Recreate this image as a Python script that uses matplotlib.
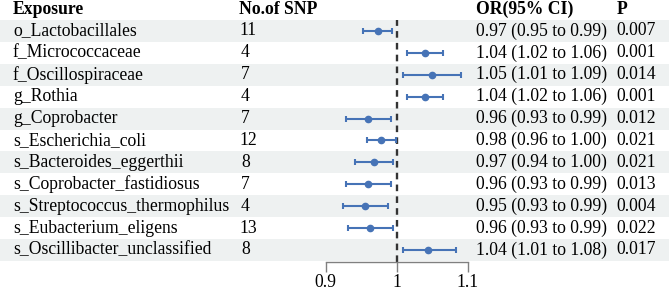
import numpy as np
import matplotlib.pyplot as plt

exposures = ["o_Lactobacillales", "f_Micrococcaceae", "f_Oscillospiraceae", "g_Rothia",
             "g_Coprobacter", "s_Escherichia_coli", "s_Bacteroides_eggerthii",
             "s_Coprobacter_fastidiosus", "s_Streptococcus_thermophilus",
             "s_Eubacterium_eligens", "s_Oscillibacter_unclassified"]
n_snp = [11, 4, 7, 4, 7, 12, 8, 7, 4, 13, 8]
or_est = [0.973, 1.040, 1.049, 1.040, 0.960, 0.9775, 0.968, 0.960, 0.9555, 0.9625, 1.0444]
ci_low = [0.953, 1.014, 1.008, 1.014, 0.928, 0.958, 0.941, 0.928, 0.925, 0.932, 1.008]
ci_high = [0.993, 1.065, 1.090, 1.065, 0.992, 0.999, 0.995, 0.992, 0.987, 0.995, 1.083]
or_text = ["0.97 (0.95 to 0.99)", "1.04 (1.02 to 1.06)", "1.05 (1.01 to 1.09)",
           "1.04 (1.02 to 1.06)", "0.96 (0.93 to 0.99)", "0.98 (0.96 to 1.00)",
           "0.97 (0.94 to 1.00)", "0.96 (0.93 to 0.99)", "0.95 (0.93 to 0.99)",
           "0.96 (0.93 to 0.99)", "1.04 (1.01 to 1.08)"]
p_text = ["0.007", "0.001", "0.014", "0.001", "0.012", "0.021",
          "0.021", "0.013", "0.004", "0.022", "0.017"]
headers = ["Exposure", "No.of SNP", "OR(95% CI)", "P"]
xticks = [0.9, 1.0, 1.1]
xtick_labels = ["0.9", "1", "1.1"]

plt.rcParams["font.family"] = ["Liberation Serif", "DejaVu Serif"]
fs = 12.7
W, H = 669, 290
row0, step = 31, 21.9
blue = "#4673B6"
band = "#EEF1F1"

fig = plt.figure(figsize=(W / 100, H / 100), dpi=100)

# background axes: whole figure, y in row units
bg = fig.add_axes([0, 0, 1, 1])
bg.set_xlim(0, W)
bg.set_ylim((H - row0) / step, -row0 / step)
bg.set_axis_off()

rows = np.arange(len(exposures))
for i in rows:
    if i % 2 == 0:
        bg.axhspan(i - 0.5, i + 0.5, color=band, lw=0, zorder=0)

col_x = [13, 239, 475.5, 616.5]
for x, h in zip(col_x, headers):
    bg.text(x, -0.98, h, fontsize=fs, fontweight="bold", va="center", ha="left")
for i in rows:
    bg.text(col_x[0], i, exposures[i], fontsize=fs, va="center", ha="left")
    bg.text(col_x[1] + (2 if n_snp[i] < 10 else 0), i, str(n_snp[i]),
            fontsize=fs, va="center", ha="left")
    bg.text(col_x[2], i, or_text[i], fontsize=fs, va="center", ha="left")
    bg.text(col_x[3], i, p_text[i], fontsize=fs, va="center", ha="left")

# forest axes
x0, x1 = 325.7, 468.0
top_px = row0 - 0.5 * step
bot_px = 261.7
ax = fig.add_axes([x0 / W, 1 - bot_px / H, (x1 - x0) / W, (bot_px - top_px) / H])
ax.patch.set_alpha(0)
ax.set_xlim(0.9, 1.1)
ax.set_ylim((bot_px - row0) / step, -0.5)

ax.axvline(1.0, color="#333333", lw=1.7, dashes=(2.8, 2.2), zorder=1)
est = np.array(or_est)
err = [est - np.array(ci_low), np.array(ci_high) - est]
ax.errorbar(est, rows, xerr=err, fmt="o", color=blue, ms=4.5, elinewidth=1.5,
            capsize=2.2, capthick=1.5, zorder=3, clip_on=False)

for s in ["top", "right", "left"]:
    ax.spines[s].set_visible(False)
ax.spines["bottom"].set_color("#808080")
ax.spines["bottom"].set_linewidth(1.0)
ax.set_yticks([])
ax.set_xticks(xticks)
ax.set_xticklabels(xtick_labels, fontsize=fs)
ax.tick_params(axis="x", length=7, width=1.0, color="#808080", pad=1.8)

fig.savefig("out.png", dpi=100)
